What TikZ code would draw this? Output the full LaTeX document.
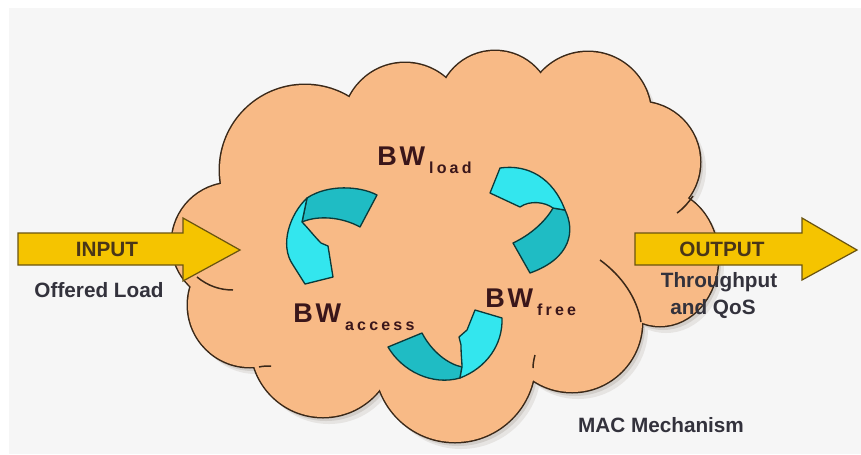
\documentclass[tikz,border=0pt]{standalone}
\usepackage{fontspec}
\setmainfont{Liberation Sans}
\newfontfamily\bwfont[LetterSpace=10]{Liberation Sans}
\newfontfamily\subfont[LetterSpace=20]{Liberation Sans}
\definecolor{bgcol}{HTML}{F6F6F6}
\definecolor{cloudfill}{HTML}{F8BA86}
\definecolor{cloudedge}{HTML}{3A2818}
\definecolor{shadowA}{HTML}{E6E4E2}
\definecolor{shadowB}{HTML}{D2CECA}
\definecolor{goldfill}{HTML}{F5C400}
\definecolor{goldedge}{HTML}{6A5410}
\definecolor{cyanlight}{HTML}{33E6EE}
\definecolor{cyandark}{HTML}{1FBCC4}
\definecolor{cyanedge}{HTML}{0A3A3A}
\definecolor{arrowtext}{HTML}{4A3618}
\definecolor{plaintext}{HTML}{33323C}
\definecolor{bwcol}{HTML}{3A161A}
\def\cloudlist{305/170/85, 405/125/62, 495/108/57, 588/115/63, 640/162/60, 572/322/70, 455/362/80, 323/345/72, 250/305/62, 232/243/60}
\begin{document}
\begin{tikzpicture}[x=0.02cm,y=-0.02cm,
  lbl/.style={inner sep=0pt, anchor=base, font=\fontsize{11.8}{13.5}\selectfont\bfseries},
  bw/.style={inner sep=0pt, anchor=base west, text=bwcol},
  bigarrow/.style={fill=goldfill, draw=goldedge, line width=0.7pt, line join=miter},
  ribbon/.style={draw=cyanedge, line width=0.75pt, line join=round},
  innerarc/.style={draw=cloudedge, line width=0.85pt}]
\useasboundingbox (0,0) rectangle (861,454);
\fill[white] (0,0) rectangle (861,454);
\fill[bgcol] (9,8) rectangle (861,454);
% shadow
\begin{scope}[shift={(6,7)}]
  \foreach \cx/\cy/\r in \cloudlist {\fill[shadowA] (\cx,\cy) circle[radius=\r];}
  \fill[shadowA] (660,258) ellipse[x radius=58, y radius=68];
\end{scope}
\begin{scope}[shift={(3,4)}]
  \foreach \cx/\cy/\r in \cloudlist {\fill[shadowB] (\cx,\cy) circle[radius=\r];}
  \fill[shadowB] (660,258) ellipse[x radius=58, y radius=68];
\end{scope}
% cloud outline pass
\foreach \cx/\cy/\r in \cloudlist {\draw[cloudedge, line width=1.7pt] (\cx,\cy) circle[radius=\r];}
\draw[cloudedge, line width=1.7pt] (660,258) ellipse[x radius=58, y radius=68];
% cloud fill pass
\foreach \cx/\cy/\r in \cloudlist {\fill[cloudfill] (\cx,\cy) circle[radius=\r];}
\fill[cloudfill] (660,258) ellipse[x radius=58, y radius=68];
\fill[cloudfill] (450,255) ellipse[x radius=180, y radius=110];
\fill[cloudfill] (540,195) circle[radius=80];
% interior arcs of the cloud
\draw[innerarc] (197,277) .. controls (208,286) and (220,290) .. (233,290);
\draw[innerarc] (600,260) .. controls (622,276) and (637,298) .. (641,322);
\draw[innerarc] (693,196) .. controls (688,203) and (684,208) .. (677,213);
\draw[innerarc] (533,368) .. controls (533,363) and (534,359) .. (535,355);
\draw[innerarc] (259,367) .. controls (263,366) and (267,366) .. (271,366);
% input / output arrows
\draw[bigarrow] (18,233) -- (183,233) -- (183,218) -- (240,250) -- (183,281) -- (183,265) -- (18,265) -- cycle;
\draw[bigarrow] (635,233) -- (802,233) -- (802,218) -- (857,250) -- (802,280) -- (802,265) -- (635,265) -- cycle;
% cyan ribbon arrows
% left (load -> access)
\draw[ribbon, fill=cyandark] (377,195) .. controls (360,186) and (328,184) .. (307,198) -- (302,222) .. controls (318,215) and (342,217) .. (360,227) -- cycle;
\draw[ribbon, fill=cyanlight] (307,198) .. controls (290,214) and (279,245) .. (293,265) -- (305,284) -- (333,277) -- (328,246) -- (321,243) .. controls (314,236) and (308,228) .. (302,222) -- cycle;
% right (free -> load)
\draw[ribbon, fill=cyandark] (565,210) .. controls (575,230) and (572,258) .. (530,273) -- (513,243) .. controls (530,235) and (545,222) .. (553,208) -- cycle;
\draw[ribbon, fill=cyanlight] (500,168) .. controls (528,164) and (553,178) .. (565,210) -- (553,208) .. controls (545,202) and (530,200) .. (520,207) -- (490,193) -- cycle;
% bottom (access -> free)
\draw[ribbon, fill=cyandark] (388,347) -- (422,333) .. controls (432,352) and (448,364) .. (462,367) -- (460,378) .. controls (432,386) and (402,371) .. (388,347) -- cycle;
\draw[ribbon, fill=cyanlight] (460,378) .. controls (486,368) and (503,345) .. (502,318) -- (475,310) -- (467,330) -- (459,337) -- (461,345) .. controls (461,355) and (462,362) .. (462,367) -- cycle;
% labels
\node[lbl, text=arrowtext] (input) at (107,256) {INPUT};
\node[lbl, text=plaintext] (offered) at (99,297) {Offered Load};
\node[lbl, text=arrowtext] (output) at (722,256) {OUTPUT};
\node[lbl, text=plaintext] (thru) at (719,287) {Throughput};
\node[lbl, text=plaintext] (qos) at (713,314) {and QoS};
\node[lbl, text=plaintext] (mac) at (661,432) {MAC Mechanism};
\node[bw] (bwload) at (377,165) {\bwfont\bfseries\fontsize{15.4}{18}\selectfont BW\hspace{0.08cm}\raisebox{-0.16cm}{\subfont\bfseries\fontsize{9.1}{11}\selectfont load}};
\node[bw] (bwaccess) at (293,322) {\bwfont\bfseries\fontsize{15.4}{18}\selectfont BW\hspace{0.08cm}\raisebox{-0.16cm}{\subfont\bfseries\fontsize{9.1}{11}\selectfont access}};
\node[bw] (bwfree) at (485,307) {\bwfont\bfseries\fontsize{15.4}{18}\selectfont BW\hspace{0.08cm}\raisebox{-0.16cm}{\subfont\bfseries\fontsize{9.1}{11}\selectfont free}};
\end{tikzpicture}
\end{document}
